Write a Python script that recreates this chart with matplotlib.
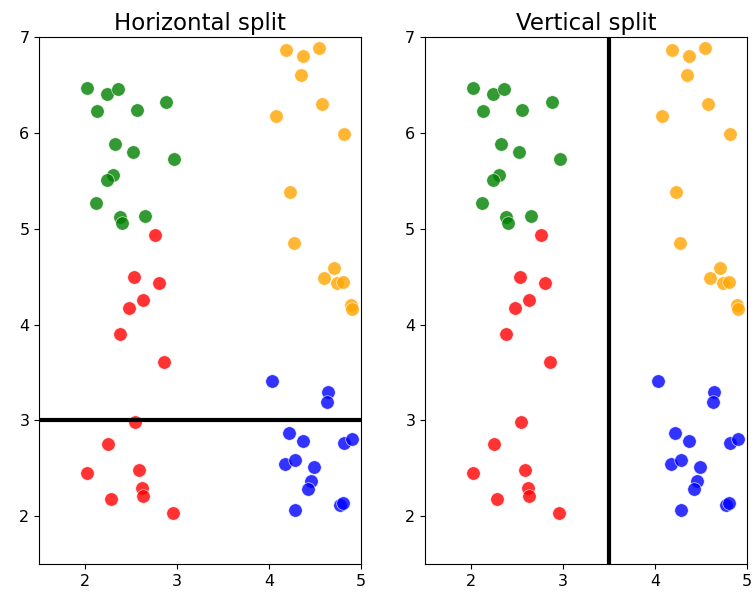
import matplotlib
matplotlib.use('Agg')
import matplotlib.pyplot as plt
import numpy as np

# Four clusters of points
green_x = [2.02, 2.24, 2.36, 2.13, 2.56, 2.88, 2.33, 2.52, 2.97, 2.30, 2.24, 2.12, 2.38, 2.40, 2.65]
green_y = [6.47, 6.41, 6.46, 6.23, 6.24, 6.32, 5.88, 5.80, 5.73, 5.56, 5.51, 5.27, 5.12, 5.06, 5.13]

red_x = [2.76, 2.53, 2.81, 2.63, 2.48, 2.38, 2.86, 2.54, 2.25, 2.02, 2.59, 2.62, 2.63, 2.28, 2.96]
red_y = [4.94, 4.50, 4.43, 4.26, 4.17, 3.90, 3.61, 2.98, 2.75, 2.45, 2.48, 2.30, 2.21, 2.18, 2.03]

orange_x = [4.19, 4.37, 4.55, 4.35, 4.58, 4.08, 4.82, 4.23, 4.27, 4.71, 4.60, 4.74, 4.81, 4.89, 4.90]
orange_y = [6.87, 6.80, 6.89, 6.61, 6.30, 6.18, 5.99, 5.38, 4.85, 4.59, 4.49, 4.43, 4.44, 4.21, 4.16]

blue_x = [4.03, 4.64, 4.63, 4.22, 4.37, 4.82, 4.90, 4.18, 4.28, 4.49, 4.46, 4.43, 4.77, 4.81, 4.28]
blue_y = [3.41, 3.30, 3.19, 2.87, 2.79, 2.77, 2.81, 2.55, 2.59, 2.52, 2.37, 2.29, 2.12, 2.14, 2.07]

clusters = [(green_x, green_y, 'green'), (red_x, red_y, 'red'),
            (orange_x, orange_y, 'orange'), (blue_x, blue_y, 'blue')]

fig, axes = plt.subplots(1, 2, figsize=(7.52, 5.99), dpi=100)
fig.subplots_adjust(left=0.052, right=0.993, top=0.938, bottom=0.058, wspace=0.2)

for ax, title in zip(axes, ['Horizontal split', 'Vertical split']):
    for xs, ys, c in clusters:
        ax.scatter(xs, ys, c=c, s=95, alpha=0.8, edgecolors='white', linewidths=0.5)
    ax.set_xlim(1.5, 5)
    ax.set_ylim(1.5, 7)
    ax.set_xticks([2, 3, 4, 5])
    ax.set_yticks([2, 3, 4, 5, 6, 7])
    ax.tick_params(labelsize=11.5)
    ax.set_title(title, fontsize=16.5, pad=5)

axes[0].axhline(3, color='black', linewidth=3)
axes[1].axvline(3.5, color='black', linewidth=3)

plt.savefig('out.png')
